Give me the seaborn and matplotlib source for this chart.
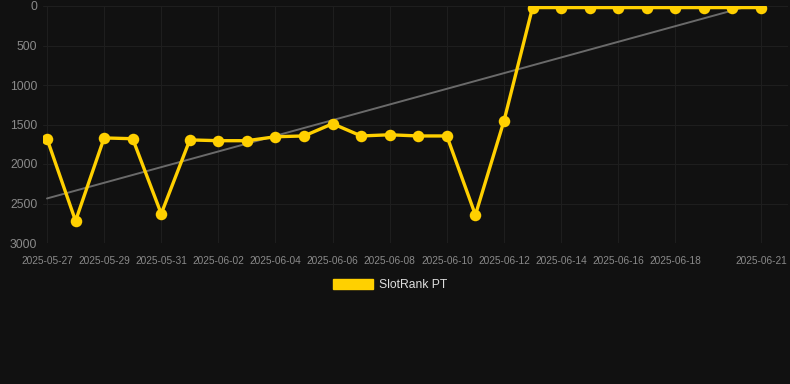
import numpy as np
import pandas as pd
import matplotlib
matplotlib.use("Agg")
import matplotlib.pyplot as plt
import matplotlib.dates as mdates
from matplotlib.patches import Patch
import seaborn as sns

# ---------------------------------------------------------------------------
# Data (rank, lower is better)
# ---------------------------------------------------------------------------
dates = pd.date_range("2025-05-27", "2025-06-21", freq="D")
ranks = [1680, 2720, 1670, 1680, 2630, 1695, 1705, 1705, 1655, 1645,
         1490, 1645, 1630, 1645, 1645, 2645, 1455,
         20, 20, 20, 20, 20, 20, 20, 20, 20]
tick_dates = ["2025-05-27", "2025-05-29", "2025-05-31", "2025-06-02",
              "2025-06-04", "2025-06-06", "2025-06-08", "2025-06-10",
              "2025-06-12", "2025-06-14", "2025-06-16", "2025-06-18",
              "2025-06-21"]
y_ticks = [0, 500, 1000, 1500, 2000, 2500, 3000]
series_name = "SlotRank PT"

df = pd.DataFrame({"date": dates, "rank": ranks})

# linear trend over the series
x_num = np.arange(len(df))
slope, intercept = np.polyfit(x_num, df["rank"], 1)
df["trend"] = intercept + slope * x_num

# ---------------------------------------------------------------------------
# Styling
# ---------------------------------------------------------------------------
BG = "#111111"
GRID = "#1e1e1e"
YELLOW = "#FFD000"
TEXT = "#8a8a8a"

sns.set_style("dark")
plt.rcParams["font.family"] = ["Liberation Sans", "DejaVu Sans"]

fig = plt.figure(figsize=(7.9, 3.84), dpi=100, facecolor=BG)
ax = fig.add_axes([43 / 790, 1 - 243 / 384, (788 - 43) / 790, (243 - 6) / 384])
ax.set_facecolor(BG)

sns.lineplot(data=df, x="date", y="trend", ax=ax, color="#6a6a6a",
             linewidth=1.4, legend=False)
sns.lineplot(data=df, x="date", y="rank", ax=ax, color=YELLOW,
             linewidth=2.4, marker="o", markersize=8.3,
             markeredgewidth=0, legend=False)

ax.set_ylim(3000, 0)
ax.set_xlim(dates[0] - pd.Timedelta(days=0.14), dates[-1] + pd.Timedelta(days=0.945))
ax.set_yticks(y_ticks)
ax.set_xticks(pd.to_datetime(tick_dates))
ax.xaxis.set_major_formatter(mdates.DateFormatter("%Y-%m-%d"))

ax.grid(True, color=GRID, linewidth=0.8)
ax.set_axisbelow(True)
for s in ax.spines.values():
    s.set_visible(False)

ax.tick_params(axis="y", colors=TEXT, labelsize=8.8, length=0, pad=4)
ax.tick_params(axis="x", colors=TEXT, labelsize=7.3, length=6,
               color=GRID, width=0.8, pad=3)
for lbl in ax.get_yticklabels():
    lbl.set_color(TEXT)
for lbl in ax.get_xticklabels():
    lbl.set_color(TEXT)

ax.set_xlabel("")
ax.set_ylabel("")

handle = Patch(facecolor=YELLOW, edgecolor=YELLOW)
fig.legend([handle], [series_name], loc="center", bbox_to_anchor=(390 / 790, 1 - 285 / 384),
           frameon=False, handlelength=3.3, handleheight=0.95, handletextpad=0.5,
           fontsize=8.7, labelcolor="#dddddd")

fig.savefig("out.png", dpi=100, facecolor=BG)
